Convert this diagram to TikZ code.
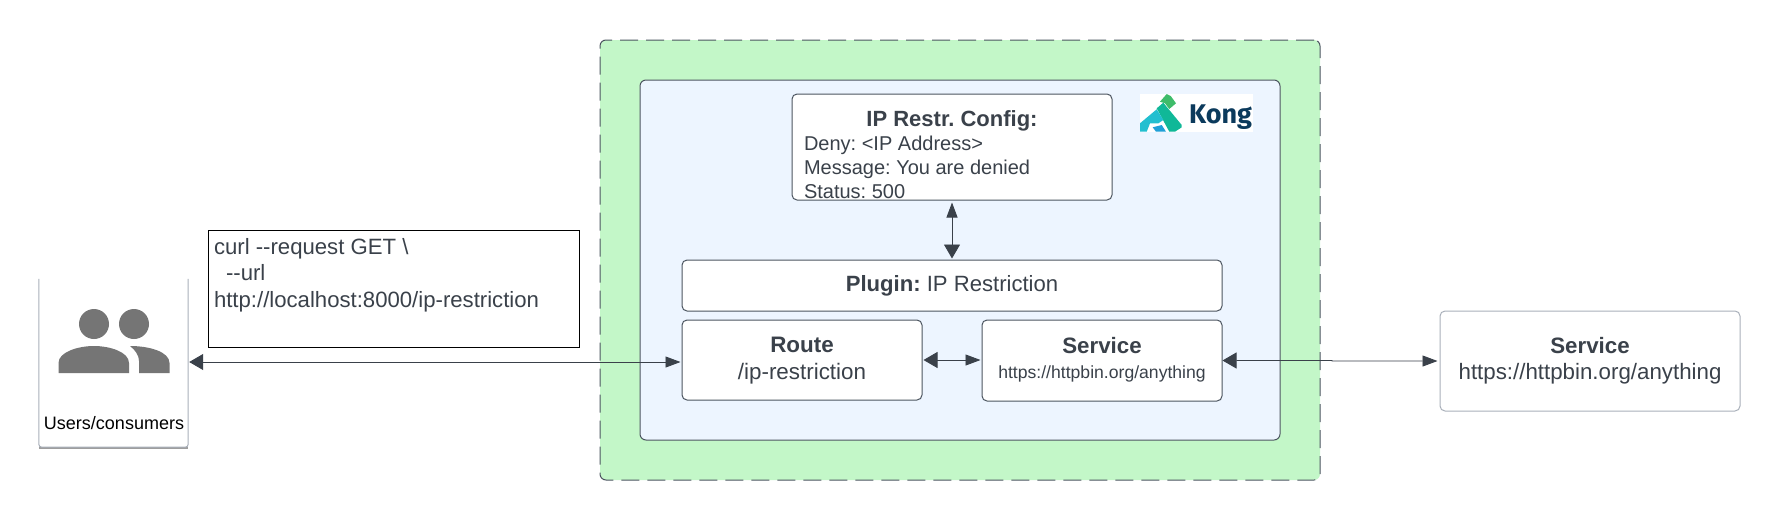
\documentclass[tikz,border=0pt]{standalone}
\usepackage{fontspec}
\setmainfont{Liberation Sans}
\newfontfamily\kongfont{Fira Sans}
\usetikzlibrary{arrows.meta,calc}
\frenchspacing
\definecolor{ink}{HTML}{3A414A}
\definecolor{edgeline}{HTML}{4C5560}
\definecolor{softedge}{HTML}{A9B0BA}
\definecolor{zonegreen}{HTML}{C3F7C8}
\definecolor{zoneblue}{HTML}{EDF5FF}
\definecolor{icongray}{HTML}{757575}
\definecolor{kongnavy}{HTML}{0B3A5C}
\definecolor{konggreen}{HTML}{3EBC6A}
\definecolor{kongteal}{HTML}{10B898}
\definecolor{kongcyan}{HTML}{22BFD0}
\definecolor{kongblue}{HTML}{20A0D8}
\newcommand{\boxlines}[3]{\raisebox{#1}[0pt][0pt]{\fontsize{#2}{27.5}\selectfont\begin{tabular}{@{}c@{}}#3\end{tabular}}}
\tikzset{
  rbox/.style={draw=edgeline,line width=1pt,rounded corners=5pt,fill=white,inner sep=0pt,text=ink,minimum width=#1},
  duplex/.style={draw=ink,line width=0.9pt,{Triangle[length=14pt,width=16pt]}-{Triangle[length=15pt,width=11pt]}},
}
\begin{document}
\begin{tikzpicture}[x=1pt,y=-1pt]
\useasboundingbox[fill=white] (0,0) rectangle (1780,520);
% zones
\node[draw=edgeline,line width=1pt,dash pattern=on 18pt off 8pt,rounded corners=6pt,fill=zonegreen,inner sep=0pt,minimum width=720pt,minimum height=440pt] (zone) at (960,260) {};
\node[draw=edgeline,line width=1pt,rounded corners=6pt,fill=zoneblue,inner sep=0pt,minimum width=640pt,minimum height=360pt] (inner) at (960,260) {};
% config
\node[rbox=320pt,minimum height=106pt] (config) at (952,147) {\raisebox{-10pt}[0pt][0pt]{\parbox{296pt}{\fontsize{20}{24}\selectfont\centering{\fontsize{22}{26}\selectfont\textbf{IP Restr. Config:}\par}\raggedright Deny: <IP Address>\par Message: You are denied\par Status: 500\par}}};
% plugin
\node[rbox=540pt,minimum height=51pt] (plugin) at (952,285.5) {\fontsize{22.1}{26}\selectfont\textbf{Plugin:} IP Restriction};
% route / service
\node[rbox=240pt,minimum height=80pt] (route) at (802,360) {\boxlines{-5.8pt}{22.4}{\textbf{Route}\\/ip-restriction}};
\node[rbox=240pt,minimum height=81pt] (service) at (1102,360.5) {\boxlines{-5pt}{22.3}{\textbf{Service}\\[-2.5pt]\fontsize{17.6}{20}\selectfont https://httpbin.org/anything}};
% outside service
\node[rbox=300pt,minimum height=100pt,draw=softedge] (backend) at (1590,361) {\boxlines{-5pt}{22.3}{\textbf{Service}\\[-1pt]https://httpbin.org/anything}};
% request text
\node[draw=black,line width=1pt,fill=white,inner sep=0pt,minimum width=371pt,minimum height=117pt,text=ink] (curl) at (394,288.5) {\raisebox{11pt}[0pt][0pt]{\parbox{360pt}{\fontsize{22.15}{26.5}\selectfont curl -{}-request GET \textbackslash\par\hspace*{12pt}-{}-url\par http://localhost:8000/ip-restriction}}};
% users card
\node[inner sep=0pt,minimum width=149pt,minimum height=168pt] (users) at (113.5,363) {};
\draw[draw=icongray!70,line width=2.4pt,rounded corners=2pt] ($(users.south west)+(0,1)$) -- ($(users.south east)+(0,1)$);
\draw[draw=softedge,line width=1pt,rounded corners=3pt] (users.north west) -- (users.south west) -- (users.south east) -- (users.north east);
\fill[icongray] (94,324) circle (15);
\fill[icongray] (134,324) circle (15);
\fill[icongray] (58.5,373) -- (58.5,363) .. controls (58.5,352) and (78,346) .. (94,346) .. controls (110,346) and (129,352) .. (129,363) -- (129,373) -- cycle;
\fill[icongray] (139,373) -- (139,361) .. controls (139,355) and (135,350) .. (130,346) .. controls (150,346) and (169.5,352) .. (169.5,363) -- (169.5,373) -- cycle;
\node[inner sep=0pt,text=black,font=\fontsize{18}{20}\selectfont] (userslabel) at (114,423) {Users/consumers};
% Kong logo
\fill[white] (1140,94) rectangle (1253,132);
\fill[konggreen] (1160,101.7) -- (1166.7,94) -- (1170.7,96) -- (1176,103.3) -- (1169.3,109) -- (1165,103.3) -- cycle;
\fill[kongteal] (1156.7,108.3) -- (1163.3,102.7) -- (1181.7,125) -- (1181.7,127.3) -- (1175,131.7) -- (1169.3,131.7) -- cycle;
\fill[kongcyan] (1140,123.3) -- (1156.7,109.3) -- (1163.3,120) -- (1158.3,123.3) -- (1150,123.3) -- (1146.7,131.7) -- (1140,131.7) -- cycle;
\fill[kongblue] (1152.7,127.3) -- (1161.7,125) -- (1166,131.7) -- (1156,131.7) -- cycle;
\node[inner sep=0pt,anchor=base west,text=kongnavy,font=\kongfont\bfseries\fontsize{27}{30}\selectfont] (kong) at (1189,123.5) {Kong};
% connectors
\coordinate (usersport) at ([yshift=1pt]users.east);
\coordinate (jogA) at (1331,360.5);
\coordinate (jogB) at (1333,361);
\draw[duplex,shorten >=1pt,shorten <=1pt] (usersport) -- (route.west |- usersport);
\draw[duplex,shorten >=1pt,shorten <=1pt] (route.east) -- (service.west |- route.east);
\draw[duplex,shorten >=2pt] (service.east) -- (jogA) -- (jogB) -- (backend.west);
\draw[duplex,{Triangle[length=15pt,width=11pt]}-{Triangle[length=14pt,width=16pt]},shorten <=2pt,shorten >=1pt] (config.south) -- (plugin.north);
\end{tikzpicture}
\end{document}
